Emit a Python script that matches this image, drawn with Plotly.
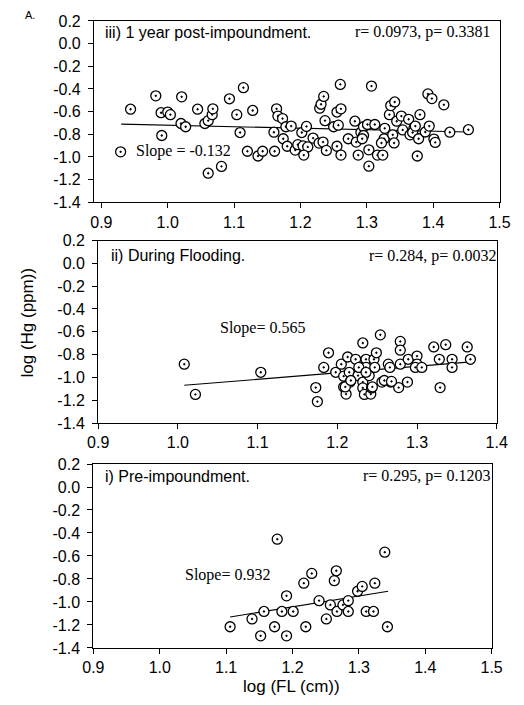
import plotly.graph_objects as go

W, H = 524, 705

# ---------------- data ----------------
# iii) 1 year post-impoundment
post_x = [0.929, 0.944, 0.982, 0.991, 0.990, 1.000, 1.004, 1.021, 1.020, 1.027, 1.045, 1.056, 1.061, 1.067,
          1.068, 1.061, 1.081, 1.093, 1.104, 1.114, 1.109, 1.128, 1.120, 1.136, 1.143, 1.164, 1.166, 1.173,
          1.178, 1.186, 1.160, 1.161, 1.174, 1.180, 1.192, 1.196, 1.202, 1.209, 1.204, 1.211, 1.205, 1.219,
          1.229, 1.231, 1.235, 1.237, 1.228, 1.234, 1.239, 1.250, 1.257, 1.255, 1.261, 1.260, 1.255, 1.261,
          1.272, 1.282, 1.284, 1.287, 1.291, 1.295, 1.295, 1.293, 1.301, 1.303, 1.307, 1.303, 1.312, 1.316,
          1.324, 1.326, 1.322, 1.327, 1.334, 1.336, 1.342, 1.339, 1.341, 1.345, 1.352, 1.354, 1.363, 1.365,
          1.371, 1.369, 1.373, 1.378, 1.380, 1.376, 1.388, 1.392, 1.398, 1.394, 1.401, 1.403, 1.416, 1.425,
          1.453]
post_y = [-0.955, -0.579, -0.461, -0.811, -0.610, -0.604, -0.627, -0.470, -0.705, -0.734, -0.579, -0.705,
          -0.680, -0.627, -0.576, -1.144, -1.084, -0.487, -0.627, -0.389, -0.785, -0.590, -0.950, -0.992,
          -0.950, -0.576, -0.640, -0.662, -0.734, -0.728, -0.782, -0.950, -0.840, -0.906, -0.940, -0.892,
          -0.785, -0.731, -0.903, -0.912, -0.984, -0.834, -0.570, -0.535, -0.466, -0.680, -0.878, -0.869,
          -0.943, -0.734, -0.720, -0.604, -0.576, -0.360, -0.906, -0.984, -0.840, -0.685, -0.869, -0.984,
          -0.782, -0.734, -0.811, -0.840, -0.714, -0.938, -0.375, -1.082, -0.714, -0.984, -0.984, -0.840,
          -0.877, -0.748, -0.627, -0.547, -0.515, -0.805, -0.877, -0.685, -0.640, -0.762, -0.668, -0.805,
          -0.748, -0.785, -0.728, -0.840, -0.627, -0.992, -0.780, -0.444, -0.485, -0.728, -0.843, -0.872,
          -0.540, -0.782, -0.760]
post_fit_x = [0.930, 1.453]
post_fit_y = [-0.711, -0.780]

# ii) During Flooding
flood_x = [1.008, 1.022, 1.104, 1.173, 1.175, 1.189, 1.183, 1.198, 1.205, 1.208, 1.208, 1.211, 1.213, 1.215,
           1.216, 1.223, 1.226, 1.229, 1.232, 1.232, 1.232, 1.234, 1.236, 1.236, 1.240, 1.242, 1.243, 1.246,
           1.247, 1.249, 1.254, 1.256, 1.264, 1.266, 1.267, 1.277, 1.279, 1.279, 1.279, 1.288, 1.289, 1.300,
           1.300, 1.298, 1.306, 1.321, 1.328, 1.329, 1.336, 1.344, 1.344, 1.363, 1.367, 1.210, 1.217, 1.227,
           1.236, 1.244, 1.259, 1.268]
flood_y = [-0.884, -1.149, -0.955, -1.089, -1.212, -0.784, -0.912, -0.955, -0.884, -0.989, -1.084, -1.146,
           -0.821, -0.955, -1.041, -0.841, -0.984, -0.912, -0.698, -1.041, -1.092, -1.149, -0.841, -0.912,
           -0.984, -1.146, -1.092, -0.841, -0.912, -0.784, -0.627, -1.041, -0.884, -0.912, -1.041, -1.089,
           -0.884, -0.684, -0.761, -1.041, -0.841, -0.813, -0.884, -0.912, -0.912, -0.733, -0.841, -1.089,
           -0.713, -0.841, -0.912, -0.733, -0.841, -1.083, -1.027, -0.912, -0.955, -1.083, -1.027, -1.035]
flood_fit_x = [1.008, 1.368]
flood_fit_y = [-1.069, -0.864]

# i) Pre-impoundment
pre_x = [1.106, 1.139, 1.152, 1.157, 1.173, 1.177, 1.184, 1.191, 1.191, 1.201, 1.217, 1.220, 1.229, 1.240,
         1.251, 1.257, 1.263, 1.266, 1.267, 1.276, 1.284, 1.284, 1.298, 1.305, 1.311, 1.322, 1.324, 1.339,
         1.343]
pre_y = [-1.216, -1.148, -1.295, -1.083, -1.216, -0.454, -1.083, -0.947, -1.295, -1.083, -0.837, -1.216,
         -0.752, -0.989, -1.148, -1.026, -0.815, -0.729, -1.083, -1.026, -1.083, -0.989, -0.907, -0.865,
         -1.083, -1.083, -0.837, -0.567, -1.216]
pre_fit_x = [1.106, 1.344]
pre_fit_y = [-1.131, -0.907]

y_tickvals = [0.2, 0.0, -0.2, -0.4, -0.6, -0.8, -1.0, -1.2, -1.4]
y_ticktext = ["0.2", "0.0", "-0.2", "-0.4", "-0.6", "-0.8", "-1.0", "-1.2", "-1.4"]
x_tickvals_a = [0.9, 1.0, 1.1, 1.2, 1.3, 1.4, 1.5]
x_ticktext_a = ["0.9", "1.0", "1.1", "1.2", "1.3", "1.4", "1.5"]
x_tickvals_b = [0.9, 1.0, 1.1, 1.2, 1.3, 1.4]
x_ticktext_b = ["0.9", "1.0", "1.1", "1.2", "1.3", "1.4"]

titles = ["iii) 1 year post-impoundment.", "ii) During Flooding.", "i) Pre-impoundment."]
stats = ["r= 0.0973, p= 0.3381", "r= 0.284, p= 0.0032", "r= 0.295, p= 0.1203"]
slopes = ["Slope = -0.132", "Slope= 0.565", "Slope= 0.932"]

# ---------------- layout geometry (pixels) ----------------
panels = [
    dict(x=post_x, y=post_y, fx=post_fit_x, fy=post_fit_y, l=86.7, r=510, t=13.3, b=199,
         xr=[0.889, 1.5], tv=x_tickvals_a, tt=x_ticktext_a, title_pos=(96, 25), stat_pos=(502, 25),
         slope_pos=(128, 147)),
    dict(x=flood_x, y=flood_y, fx=flood_fit_x, fy=flood_fit_y, l=91, r=507, t=238.3, b=425.3,
         xr=[0.9, 1.4], tv=x_tickvals_b, tt=x_ticktext_b, title_pos=(102, 254), stat_pos=(508, 254),
         slope_pos=(216, 328)),
    dict(x=pre_x, y=pre_y, fx=pre_fit_x, fy=pre_fit_y, l=86, r=501.7, t=467.3, b=655.7,
         xr=[0.9, 1.5], tv=x_tickvals_a, tt=x_ticktext_a, title_pos=(96, 480), stat_pos=(502, 480),
         slope_pos=(180, 581)),
]

fig = go.Figure()
annotations = []
sans = "Liberation Sans, Arial, sans-serif"
serif = "Liberation Serif, Times New Roman, serif"

for i, p in enumerate(panels, start=1):
    xa = "x" if i == 1 else f"x{i}"
    ya = "y" if i == 1 else f"y{i}"
    fig.add_trace(go.Scatter(x=p["fx"], y=p["fy"], mode="lines", xaxis=xa, yaxis=ya,
                             line=dict(color="black", width=1.1), showlegend=False, hoverinfo="skip"))
    fig.add_trace(go.Scatter(x=p["x"], y=p["y"], mode="markers", xaxis=xa, yaxis=ya, showlegend=False,
                             marker=dict(symbol="circle-dot", size=10, color="white",
                                         line=dict(color="black", width=1.3))))
    axis_common = dict(showgrid=False, zeroline=False, showline=True, linecolor="black", linewidth=1.2,
                       mirror=True, ticks="outside", ticklen=5, tickwidth=1.2, tickcolor="black",
                       tickfont=dict(family=sans, size=16, color="black"), fixedrange=True)
    fig.update_layout(**{
        ("xaxis" if i == 1 else f"xaxis{i}"): dict(
            domain=[p["l"] / W, p["r"] / W], range=p["xr"], tickvals=p["tv"], ticktext=p["tt"],
            anchor=ya, **axis_common),
        ("yaxis" if i == 1 else f"yaxis{i}"): dict(
            domain=[1 - p["b"] / H, 1 - p["t"] / H], range=[-1.4, 0.2], tickvals=y_tickvals,
            ticktext=y_ticktext, anchor=xa, ticklabelstandoff=4, **axis_common),
    })
    annotations.append(dict(text=titles[i - 1], xref="paper", yref="paper", x=p["title_pos"][0] / W,
                            y=1 - p["title_pos"][1] / H, xanchor="left", yanchor="middle", showarrow=False,
                            font=dict(family=sans, size=16, color="black")))
    annotations.append(dict(text=stats[i - 1], xref="paper", yref="paper", x=p["stat_pos"][0] / W,
                            y=1 - p["stat_pos"][1] / H, xanchor="right", yanchor="middle", showarrow=False,
                            font=dict(family=serif, size=16, color="black")))
    annotations.append(dict(text=slopes[i - 1], xref="paper", yref="paper", x=p["slope_pos"][0] / W,
                            y=1 - p["slope_pos"][1] / H, xanchor="left", yanchor="middle", showarrow=False,
                            font=dict(family=serif, size=16, color="black")))

annotations.append(dict(text="log (Hg (ppm))", xref="paper", yref="paper", x=17 / W, y=1 - 322 / H,
                        xanchor="center", yanchor="middle", textangle=-90, showarrow=False,
                        font=dict(family=sans, size=17, color="black")))
annotations.append(dict(text="log (FL (cm))", xref="paper", yref="paper", x=293 / W, y=1 - 695 / H,
                        xanchor="center", yanchor="middle", showarrow=False,
                        font=dict(family=sans, size=17, color="black")))
annotations.append(dict(text="A.", xref="paper", yref="paper", x=14 / W, y=1.0,
                        xanchor="left", yanchor="top", showarrow=False, borderpad=0,
                        font=dict(family=sans, size=11, color="black")))

fig.update_layout(width=W, height=H, margin=dict(l=0, r=0, t=0, b=0), paper_bgcolor="white",
                  plot_bgcolor="white", annotations=annotations)

fig.write_html("out.html", config={"displayModeBar": False})
